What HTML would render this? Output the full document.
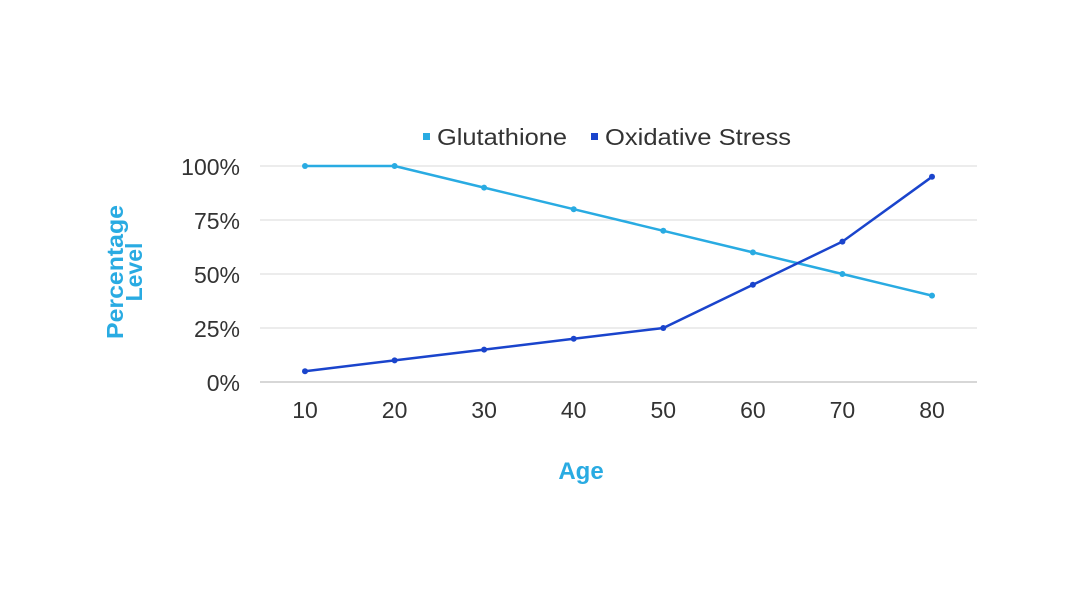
<!DOCTYPE html>
<html><head><style>body{margin:0;background:#fff}svg{display:block}</style></head>
<body>
<svg width="1080" height="608" xmlns="http://www.w3.org/2000/svg" font-family="Liberation Sans, sans-serif">
<rect width="1080" height="608" fill="#fff"/>
<g stroke="#d9d9d9" stroke-width="1">
<line x1="260" x2="977" y1="166" y2="166"/>
<line x1="260" x2="977" y1="220" y2="220"/>
<line x1="260" x2="977" y1="274" y2="274"/>
<line x1="260" x2="977" y1="328" y2="328"/>
</g>
<line x1="260" x2="977" y1="382" y2="382" stroke="#bfbfbf" stroke-width="1.2"/>
<g font-size="23" fill="#333" text-anchor="end">
<text x="240" y="175">100%</text><text x="240" y="229">75%</text><text x="240" y="283">50%</text><text x="240" y="337">25%</text><text x="240" y="391">0%</text>
</g>
<g font-size="23" fill="#333" text-anchor="middle">
<text x="305" y="418">10</text><text x="394.6" y="418">20</text><text x="484.1" y="418">30</text><text x="573.7" y="418">40</text><text x="663.3" y="418">50</text><text x="752.9" y="418">60</text><text x="842.4" y="418">70</text><text x="932" y="418">80</text>
</g>
<text x="581" y="479" font-size="24" font-weight="bold" fill="#29abe2" text-anchor="middle">Age</text>
<g transform="translate(123,272) rotate(-90)" font-size="23" font-weight="bold" fill="#29abe2" text-anchor="middle">
<text x="0" y="0" textLength="134" lengthAdjust="spacingAndGlyphs">Percentage</text><text x="0" y="19">Level</text>
</g>
<rect x="423" y="133" width="7" height="7" fill="#29abe2"/>
<text x="437" y="145" font-size="23" fill="#333" textLength="130" lengthAdjust="spacingAndGlyphs">Glutathione</text>
<rect x="591" y="133" width="7" height="7" fill="#1a44cc"/>
<text x="605" y="145" font-size="23" fill="#333" textLength="186" lengthAdjust="spacingAndGlyphs">Oxidative Stress</text>
<polyline fill="none" stroke="#29abe2" stroke-width="2.5" points="305,166 394.6,166 484.1,187.6 573.7,209.2 663.3,230.8 752.9,252.4 842.4,274 932,295.6"/>
<g fill="#29abe2"><circle cx="305" cy="166" r="3"/><circle cx="394.6" cy="166" r="3"/><circle cx="484.1" cy="187.6" r="3"/><circle cx="573.7" cy="209.2" r="3"/><circle cx="663.3" cy="230.8" r="3"/><circle cx="752.9" cy="252.4" r="3"/><circle cx="842.4" cy="274" r="3"/><circle cx="932" cy="295.6" r="3"/></g>
<polyline fill="none" stroke="#1a44cc" stroke-width="2.5" points="305,371.2 394.6,360.4 484.1,349.6 573.7,338.8 663.3,328 752.9,284.8 842.4,241.6 932,176.8"/>
<g fill="#1a44cc"><circle cx="305" cy="371.2" r="3"/><circle cx="394.6" cy="360.4" r="3"/><circle cx="484.1" cy="349.6" r="3"/><circle cx="573.7" cy="338.8" r="3"/><circle cx="663.3" cy="328" r="3"/><circle cx="752.9" cy="284.8" r="3"/><circle cx="842.4" cy="241.6" r="3"/><circle cx="932" cy="176.8" r="3"/></g>
</svg>
</body></html>
